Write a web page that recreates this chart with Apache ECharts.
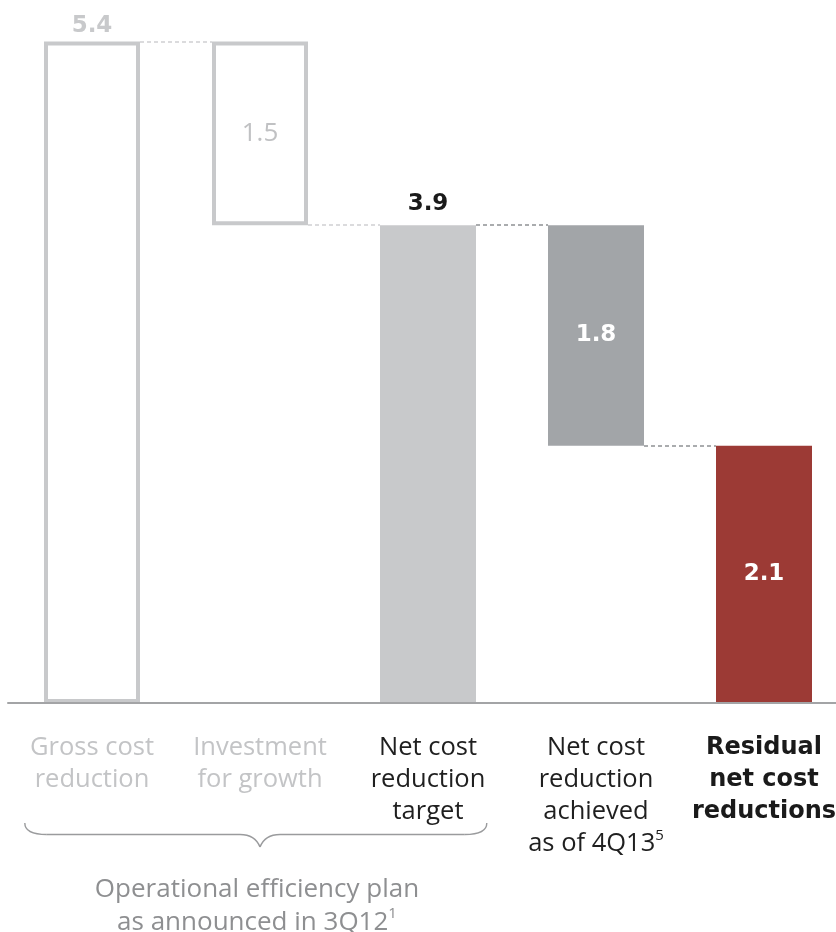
<!DOCTYPE html>
<html><head><meta charset="utf-8">
<script src="https://cdn.jsdelivr.net/npm/echarts@6/dist/echarts.min.js"></script>
<style>html,body{margin:0;padding:0;background:#fff}#c{width:836px;height:932px}</style>
</head><body><div id="c"></div>
<script>
// ---- data ----
const categories = ['Gross cost reduction', 'Investment for growth', 'Net cost reduction target', 'Net cost reduction achieved as of 4Q13', 'Residual net cost reductions'];
const labelLines = [['Gross cost', 'reduction'], ['Investment', 'for growth'], ['Net cost', 'reduction', 'target'], ['Net cost', 'reduction', 'achieved', 'as of 4Q13'], ['Residual', 'net cost', 'reductions']];
const labelNotes = ['', '', '', '5', ''];
const values = [5.4, 1.5, 3.9, 1.8, 2.1];
const stepType = ['total', 'decrease', 'total', 'decrease', 'total'];
const valueLabels = ['5.4', '1.5', '3.9', '1.8', '2.1'];
const bracketLines = ['Operational efficiency plan', 'as announced in 3Q12'];
const bracketNote = '1';
const bracketCats = [0, 1, 2]; // left, tip, right categories

// ---- styles ----
const FONT = '"Open Sans", "Noto Sans", sans-serif';
const BOLD = '"DejaVu Sans", "Open Sans", sans-serif';
const BAR_W = 96, BAND_W = 168;
const fills = ['#ffffff', '#ffffff', '#c8c9cb', '#a2a5a8', '#9c3a35'];
const borders = ['#c8c9cb', '#c8c9cb', '#c8c9cb', '#a2a5a8', '#9c3a35'];
const borderW = [4, 4, 0, 0, 0];
const labelPos = ['top', 'inside', 'top', 'inside', 'inside'];
const labelDist = [4, 0, 10, 0, 0];
const labelColors = ['#c8c9cb', '#c0c1c3', '#1a1a1a', '#ffffff', '#ffffff'];
const labelWeights = ['bold', 'normal', 'bold', 'bold', 'bold'];
const labelFonts = [BOLD, FONT, BOLD, BOLD, BOLD];
const labelSizes = [23, 26, 23, 23, 23];
const catStyle = ['light', 'light', 'dark', 'dark', 'bold'];
const connColors = ['#cfd0d2', '#cfd0d2', '#8f9194', '#8f9194'];

// waterfall bases and running levels
const bases = [], levels = [];
let level = 0;
values.forEach((v, i) => {
  if (stepType[i] === 'total') { bases.push(0); level = v; }
  else { level = level - v; bases.push(level); }
  levels.push(level);
});
const half = BAR_W / BAND_W / 2;
const connectors = [];
for (let i = 0; i < values.length - 1; i++) {
  connectors.push([
    { coord: [i + half, levels[i]], lineStyle: { color: connColors[i] } },
    { coord: [i + 1 - half, levels[i]] }
  ]);
}

const chart = echarts.init(document.getElementById('c'), null, { renderer: 'canvas' });
chart.setOption({
  animation: false,
  backgroundColor: '#ffffff',
  grid: { left: 8, width: 840, top: 17, bottom: 229, containLabel: false, outerBoundsMode: 'none' },
  xAxis: [{
    type: 'category', data: categories, z: 10,
    axisLine: { lineStyle: { color: '#a3a4a6', width: 2 } },
    axisTick: { show: false },
    axisLabel: {
      interval: 0, margin: 29, hideOverlap: false, lineHeight: 32,
      fontFamily: FONT, fontSize: 25,
      formatter: function (val, idx) {
        const s = catStyle[idx];
        const lines = labelLines[idx].map(t => '{' + s + '|' + t + '}');
        if (labelNotes[idx]) lines[lines.length - 1] += '{sup|' + labelNotes[idx] + '}';
        return lines.join('\n');
      },
      rich: {
        light: { color: '#c3c4c6', fontSize: 25.5, lineHeight: 32, fontFamily: FONT },
        dark: { color: '#1f1f1f', fontSize: 25.5, lineHeight: 32, fontFamily: FONT },
        bold: { color: '#1a1a1a', fontSize: 24, lineHeight: 32, fontWeight: 'bold', fontFamily: BOLD },
        sup: { color: '#1f1f1f', fontSize: 15, lineHeight: 20, verticalAlign: 'top', fontFamily: FONT }
      }
    }
  }, {
    type: 'value', min: -0.5, max: 4.5, show: false, splitLine: { show: false }
  }],
  yAxis: { type: 'value', min: 0, max: 5.6, show: false, splitLine: { show: false } },
  series: [
    {
      name: 'base', type: 'bar', stack: 'w', barWidth: BAR_W, silent: true,
      itemStyle: { color: 'rgba(0,0,0,0)' },
      data: bases
    },
    {
      name: 'value', type: 'bar', stack: 'w', barWidth: BAR_W, z: 2,
      data: values.map((v, i) => ({
        value: v,
        itemStyle: { color: fills[i], borderColor: borders[i], borderWidth: borderW[i] },
        label: {
          show: true, position: labelPos[i], distance: labelDist[i],
          formatter: valueLabels[i], color: labelColors[i],
          fontWeight: labelWeights[i], fontSize: labelSizes[i], fontFamily: labelFonts[i]
        }
      }))
    },
    {
      name: 'connectors', type: 'line', xAxisIndex: 1, data: [], silent: true,
      markLine: {
        z: 1, silent: true, symbol: 'none', animation: false,
        label: { show: false },
        lineStyle: { type: [4, 3], width: 1.5 },
        data: connectors
      }
    }
  ]
});

// bracket annotation built from axis positions
const px = i => chart.convertToPixel({ xAxisIndex: 0, yAxisIndex: 0 }, [i, 0])[0];
const band = px(1) - px(0);
const L = px(bracketCats[0]) - band * 0.4;
const T = px(bracketCats[1]);
const R = px(bracketCats[2]) + band * 0.35;
const yTop = 823, yMid = 834.5, yTip = 847;
const bs = { fill: null, stroke: '#9a9b9d', lineWidth: 1.4 };
chart.setOption({
  graphic: [
    { type: 'bezierCurve', silent: true, shape: { x1: L, y1: yTop, x2: L + 22, y2: yMid, cpx1: L, cpy1: yMid }, style: bs },
    { type: 'line', silent: true, shape: { x1: L + 22, y1: yMid, x2: T - 20, y2: yMid }, style: bs },
    { type: 'bezierCurve', silent: true, shape: { x1: T - 20, y1: yMid, x2: T, y2: yTip, cpx1: T - 5, cpy1: yMid }, style: bs },
    { type: 'bezierCurve', silent: true, shape: { x1: T, y1: yTip, x2: T + 20, y2: yMid, cpx1: T + 5, cpy1: yMid }, style: bs },
    { type: 'line', silent: true, shape: { x1: T + 20, y1: yMid, x2: R - 22, y2: yMid }, style: bs },
    { type: 'bezierCurve', silent: true, shape: { x1: R - 22, y1: yMid, x2: R, y2: yTop, cpx1: R, cpy1: yMid }, style: bs },
    {
      type: 'text', x: T - 3, y: 873, silent: true,
      style: {
        text: '{m|' + bracketLines[0] + '}\n{m|' + bracketLines[1] + '}{s|' + bracketNote + '}',
        align: 'center', verticalAlign: 'top',
        rich: {
          m: { fontSize: 26, lineHeight: 33, fill: '#8e8f91', fontFamily: FONT },
          s: { fontSize: 15, lineHeight: 20, fill: '#8e8f91', verticalAlign: 'top', fontFamily: FONT }
        }
      }
    }
  ]
});
</script></body></html>
